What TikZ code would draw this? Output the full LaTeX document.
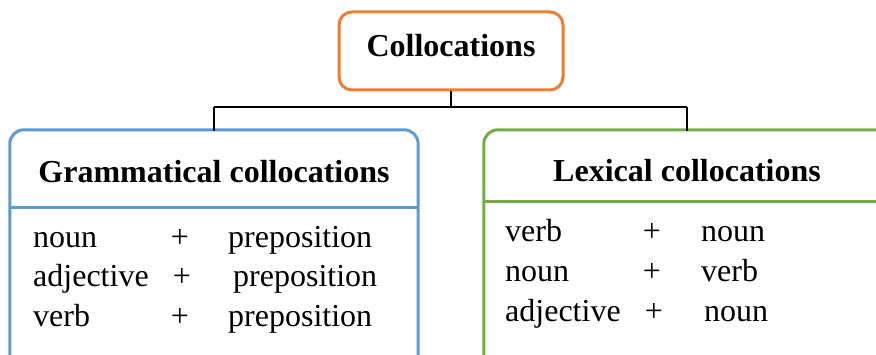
\documentclass[tikz,border=0pt]{standalone}
\usepackage{fontspec}
\setmainfont{Liberation Serif}
\definecolor{orangec}{HTML}{ED7D31}
\definecolor{bluec}{HTML}{5B9BD5}
\definecolor{greenc}{HTML}{70AD47}
\newcommand{\bigfnt}{\fontsize{32}{38}\selectfont}
\begin{document}
\begin{tikzpicture}[x=1pt,y=-1pt,
  titlebox/.style={draw=orangec,line width=3pt,rounded corners=13pt,fill=white,
    minimum width=224pt,minimum height=78pt,font=\bigfnt\bfseries,text depth=0pt,inner sep=0pt},
  hdrbox/.style={font=\bigfnt\bfseries,text depth=0pt,inner sep=0pt},
  item/.style={font=\bigfnt,inner sep=0pt,anchor=base west},
  plus/.style={font=\bigfnt,inner sep=0pt,anchor=base},
  conn/.style={draw=black,line width=2.2pt}]
\useasboundingbox (0,0) rectangle (876,355);
\clip (0,0) rectangle (876,355);
% title
\node[titlebox,text height=12pt] (title) at (451,51) {Collocations};
% headers
\node[hdrbox,minimum width=408pt,minimum height=77pt,text height=29pt] (gh) at (214,168.5) {Grammatical collocations};
\node[hdrbox,minimum width=406pt,minimum height=71pt,text height=33pt] (lh) at (687,165.5) {Lexical collocations};
% box outlines
\draw[bluec,line width=3pt,rounded corners=14pt] (gh.north west) rectangle ([yshift=-250pt]gh.south east);
\draw[bluec,line width=3pt] (gh.south west) -- (gh.south east);
\draw[greenc,line width=3pt,rounded corners=14pt] (lh.north west) rectangle ([yshift=-250pt]lh.south east);
\draw[greenc,line width=3pt] (lh.south west) -- (lh.south east);
% connectors
\coordinate (bus) at (451,107);
\draw[conn] (title.south) -- (bus);
\draw[conn] (gh.north |- bus) -- (lh.north |- bus);
\draw[conn] (gh.north |- bus) -- ([yshift=-1.5pt]gh.north);
\draw[conn] (lh.north |- bus) -- ([yshift=-1.5pt]lh.north);
% grammatical rows
\node[item] (g1a) at (33,248) {noun};
\node[plus] (g1b) at (180,248) {+};
\node[item] (g1c) at (228,248) {preposition};
\node[item] (g2a) at (33,287) {adjective};
\node[plus] (g2b) at (182,287) {+};
\node[item] (g2c) at (233,287) {preposition};
\node[item] (g3a) at (33,327) {verb};
\node[plus] (g3b) at (180,327) {+};
\node[item] (g3c) at (228,327) {preposition};
% lexical rows
\node[item] (l1a) at (505,242) {verb};
\node[plus] (l1b) at (652,242) {+};
\node[item] (l1c) at (701,242) {noun};
\node[item] (l2a) at (505,282) {noun};
\node[plus] (l2b) at (652,282) {+};
\node[item] (l2c) at (701,282) {verb};
\node[item] (l3a) at (505,322) {adjective};
\node[plus] (l3b) at (654,322) {+};
\node[item] (l3c) at (704,322) {noun};
\end{tikzpicture}
\end{document}
